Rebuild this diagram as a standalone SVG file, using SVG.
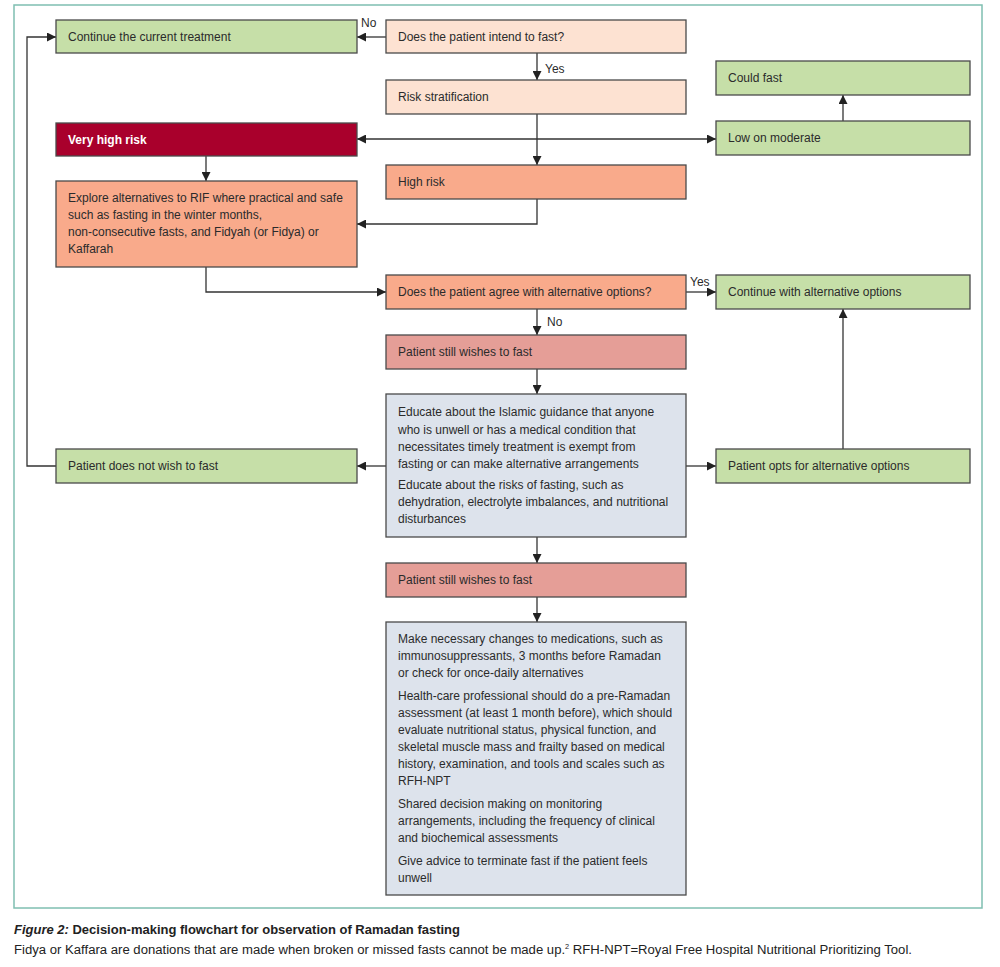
<svg xmlns="http://www.w3.org/2000/svg" width="1000" height="967" viewBox="0 0 1000 967">
<style>
text{font-family:"Liberation Sans",Arial,sans-serif;font-size:12px;fill:#2b2b2b}
.b{stroke:#4a4a4a;stroke-width:1.3}
.g{fill:#c6dfa8}
.p{fill:#fde2d2}
.o{fill:#f9aa8b}
.r{fill:#a9002c}
.w{fill:#e59e97}
.s{fill:#dde3ec}
.c{fill:none;stroke:#333;stroke-width:1.3}
.lbl{font-size:12px}
.cap{font-size:12.5px;fill:#222}
</style>
<defs>
<marker id="a" viewBox="0 0 10 10" refX="10" refY="5" markerWidth="9" markerHeight="9" markerUnits="userSpaceOnUse" orient="auto">
<path d="M0,0 L10,5 L0,10 z" fill="#222"/>
</marker>
</defs>
<rect x="14" y="5" width="968" height="903" fill="#fff" stroke="#7fbfb1" stroke-width="1.5"/>
<g id="connectors">
<line class="c" x1="386" y1="37" x2="357" y2="37" marker-end="url(#a)"/>
<line class="c" x1="537" y1="53" x2="537" y2="80" marker-end="url(#a)"/>
<line class="c" x1="537" y1="114" x2="537" y2="165" marker-end="url(#a)"/>
<line class="c" x1="537" y1="139" x2="357" y2="139" marker-end="url(#a)"/>
<line class="c" x1="537" y1="139" x2="716" y2="139" marker-end="url(#a)"/>
<line class="c" x1="843" y1="121" x2="843" y2="95" marker-end="url(#a)"/>
<line class="c" x1="206" y1="156" x2="206" y2="181" marker-end="url(#a)"/>
<polyline class="c" points="537,199 537,224 357,224" marker-end="url(#a)"/>
<polyline class="c" points="206,267 206,292 386,292" marker-end="url(#a)"/>
<line class="c" x1="686" y1="292" x2="716" y2="292" marker-end="url(#a)"/>
<line class="c" x1="537" y1="309" x2="537" y2="335" marker-end="url(#a)"/>
<line class="c" x1="537" y1="369" x2="537" y2="394" marker-end="url(#a)"/>
<line class="c" x1="386" y1="466" x2="357" y2="466" marker-end="url(#a)"/>
<line class="c" x1="686" y1="466" x2="716" y2="466" marker-end="url(#a)"/>
<line class="c" x1="843" y1="449" x2="843" y2="309" marker-end="url(#a)"/>
<polyline class="c" points="56,466 27,466 27,37 56,37" marker-end="url(#a)"/>
<line class="c" x1="537" y1="537" x2="537" y2="563" marker-end="url(#a)"/>
<line class="c" x1="537" y1="597" x2="537" y2="622" marker-end="url(#a)"/>
<text class="lbl" x="361" y="27">No</text>
<text class="lbl" x="545" y="73">Yes</text>
<text class="lbl" x="690" y="286">Yes</text>
<text class="lbl" x="547" y="326">No</text>
</g>
<g id="continue-current">
<rect class="b g" x="56" y="20" width="301" height="33"/>
<text x="68" y="41">Continue the current treatment</text>
</g>
<g id="intend">
<rect class="b p" x="386" y="20" width="300" height="33"/>
<text x="398" y="41">Does the patient intend to fast?</text>
</g>
<g id="risk-strat">
<rect class="b p" x="386" y="80" width="300" height="34"/>
<text x="398" y="101">Risk stratification</text>
</g>
<g id="very-high">
<rect class="b r" x="56" y="123" width="301" height="33"/>
<text x="68" y="144" style="fill:#fff;font-weight:bold">Very high risk</text>
</g>
<g id="could-fast">
<rect class="b g" x="716" y="61" width="254" height="34"/>
<text x="728" y="82">Could fast</text>
</g>
<g id="low-moderate">
<rect class="b g" x="716" y="121" width="254" height="34"/>
<text x="728" y="142">Low on moderate</text>
</g>
<g id="high-risk">
<rect class="b o" x="386" y="165" width="300" height="34"/>
<text x="398" y="186">High risk</text>
</g>
<g id="explore">
<rect class="b o" x="56" y="181" width="301" height="86"/>
<text x="68" y="202">Explore alternatives to RIF where practical and safe</text>
<text x="68" y="219">such as fasting in the winter months,</text>
<text x="68" y="236">non-consecutive fasts, and Fidyah (or Fidya) or</text>
<text x="68" y="253">Kaffarah</text>
</g>
<g id="agree">
<rect class="b o" x="386" y="275" width="300" height="34"/>
<text x="398" y="296">Does the patient agree with alternative options?</text>
</g>
<g id="continue-alt">
<rect class="b g" x="716" y="275" width="254" height="34"/>
<text x="728" y="296">Continue with alternative options</text>
</g>
<g id="still-wishes-1">
<rect class="b w" x="386" y="335" width="300" height="34"/>
<text x="398" y="356">Patient still wishes to fast</text>
</g>
<g id="educate">
<rect class="b s" x="386" y="394" width="300" height="143"/>
<text x="398" y="416">Educate about the Islamic guidance that anyone</text>
<text x="398" y="434">who is unwell or has a medical condition that</text>
<text x="398" y="451">necessitates timely treatment is exempt from</text>
<text x="398" y="468">fasting or can make alternative arrangements</text>
<text x="398" y="489">Educate about the risks of fasting, such as</text>
<text x="398" y="506">dehydration, electrolyte imbalances, and nutritional</text>
<text x="398" y="523">disturbances</text>
</g>
<g id="not-wish">
<rect class="b g" x="56" y="449" width="301" height="34"/>
<text x="68" y="470">Patient does not wish to fast</text>
</g>
<g id="opts-alt">
<rect class="b g" x="716" y="449" width="254" height="34"/>
<text x="728" y="470">Patient opts for alternative options</text>
</g>
<g id="still-wishes-2">
<rect class="b w" x="386" y="563" width="300" height="34"/>
<text x="398" y="584">Patient still wishes to fast</text>
</g>
<g id="make-changes">
<rect class="b s" x="386" y="622" width="300" height="273"/>
<text x="398" y="643">Make necessary changes to medications, such as</text>
<text x="398" y="660">immunosuppressants, 3 months before Ramadan</text>
<text x="398" y="677">or check for once-daily alternatives</text>
<text x="398" y="700">Health-care professional should do a pre-Ramadan</text>
<text x="398" y="717">assessment (at least 1 month before), which should</text>
<text x="398" y="734">evaluate nutritional status, physical function, and</text>
<text x="398" y="751">skeletal muscle mass and frailty based on medical</text>
<text x="398" y="768">history, examination, and tools and scales such as</text>
<text x="398" y="785">RFH-NPT</text>
<text x="398" y="808">Shared decision making on monitoring</text>
<text x="398" y="825">arrangements, including the frequency of clinical</text>
<text x="398" y="842">and biochemical assessments</text>
<text x="398" y="865">Give advice to terminate fast if the patient feels</text>
<text x="398" y="882">unwell</text>
</g>
<g id="caption">
<text class="cap" x="14" y="934" textLength="446" lengthAdjust="spacingAndGlyphs" style="font-weight:bold"><tspan style="font-style:italic">Figure 2:</tspan> Decision-making flowchart for observation of Ramadan fasting</text>
<text class="cap" x="14" y="954" textLength="898" lengthAdjust="spacingAndGlyphs">Fidya or Kaffara are donations that are made when broken or missed fasts cannot be made up.<tspan dy="-5" style="font-size:7px">2</tspan><tspan dy="5"> RFH-NPT=Royal Free Hospital Nutritional Prioritizing Tool.</tspan></text>
</g>
</svg>
